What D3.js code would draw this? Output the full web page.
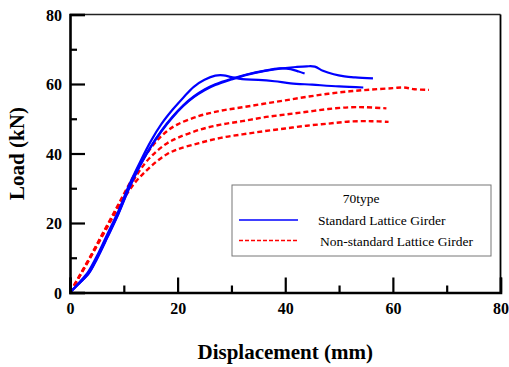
<!DOCTYPE html>
<html><head><meta charset="utf-8">
<script src="https://cdn.jsdelivr.net/npm/d3@7"></script>
<style>body{margin:0;background:#fff}svg{display:block}
svg text{font-family:"Liberation Serif","Times New Roman",Times,serif !important;}</style>
</head><body><svg id="c" width="509" height="367"></svg>
<script>
// ---- data (displacement mm, load kN) ----
const xTicks = [0, 20, 40, 60, 80];
const yTicks = [0, 20, 40, 60, 80];
const xMinorTicks = [10, 30, 50, 70];
const yMinorTicks = [10, 30, 50, 70];
const legendTitle = "70type";
const seriesNames = ["Standard Lattice Girder", "Non-standard Lattice Girder"];

const standardA = [[0,0],[1.5,2.5],[3.4,6],[5,10.5],[7,17],[9,23.5],[11,31],[13,37.5],[15,43.5],[17,48.5],[19,52.5],[21,56],[23,59.2],[25,61.2],[27,62.4],[28.5,62.5],[30,62],[32,61.4],[35,61.2],[38,60.8],[41,60.2],[45,59.8],[50,59.3],[54.5,59]];
const standardB = [[0,0],[1.5,2.3],[3.5,5.6],[5,9.8],[7,16.2],[9,22.8],[11,30.2],[13,36.6],[15,42],[17,46.6],[19,50.5],[21,53.8],[23,56.4],[25,58.4],[27,59.9],[30,61.5],[33,62.8],[36,63.8],[39,64.5],[41,64.3],[42.5,63.6],[43.6,63]];
const standardC = [[0,0],[1.5,2.3],[3.5,5.5],[5,9.6],[7,16],[9,22.6],[11,30],[13,36.4],[15,41.8],[17,46.4],[19,50.3],[21,53.6],[23,56.2],[25,58.2],[27,59.7],[30,61.3],[33,62.7],[36,63.7],[39,64.4],[42,64.9],[44,65.1],[45.5,65],[47,63.8],[49,62.8],[51,62.2],[53,61.9],[56.3,61.6]];
const nonStandardA = [[0,0],[2,5.5],[4,11],[6,16.8],[8,22.5],[10,28.3],[12,34],[14,39.3],[16,43.4],[18,46.4],[20,48.4],[24,50.8],[28,52.3],[32,53.3],[36,54.3],[40,55.3],[44,56.3],[48,57.2],[52,57.9],[56,58.4],[60,58.8],[62,59],[64,58.5],[66.7,58.3]];
const nonStandardB = [[0,0],[2,5.3],[4,10.8],[6,16.5],[8,22.2],[10,27.8],[12,32.8],[14,37.3],[16,40.5],[18,42.9],[20,44.5],[24,46.8],[28,48.3],[32,49.3],[36,50.4],[40,51.2],[44,52],[48,52.8],[52,53.3],[55,53.3],[58.8,53]];
const nonStandardC = [[0,0],[2,5.2],[4,10.6],[6,16.2],[8,21.8],[10,27],[12,31.5],[14,34.8],[16,37.6],[18,39.8],[20,41.2],[24,43],[28,44.5],[32,45.5],[36,46.4],[40,47.2],[44,48],[48,48.6],[52,49.2],[56,49.3],[59.2,49.1]];

const standardSeries = [standardA, standardB, standardC];
const nonStandardSeries = [nonStandardA, nonStandardB, nonStandardC];

// ---- layout ----
const svg = d3.select("#c");
const L = 70, R = 500.5, T = 14.5, B = 292.5;
const x = d3.scaleLinear().domain([0, 80]).range([L, R]);
const y = d3.scaleLinear().domain([0, 80]).range([B, T]);

const line = d3.line().x(d => x(d[0])).y(d => y(d[1])).curve(d3.curveCatmullRom);

// curves
const g = svg.append("g");
g.selectAll(".ns").data(nonStandardSeries).join("path")
  .attr("d", line).attr("fill", "none").attr("stroke", "#ff0000")
  .attr("stroke-width", 2.4).attr("stroke-dasharray", "5,3");
g.selectAll(".st").data(standardSeries).join("path")
  .attr("d", line).attr("fill", "none").attr("stroke", "#0000ff")
  .attr("stroke-width", 2.2);

// frame top/right
svg.append("line").attr("x1", L).attr("x2", R).attr("y1", T).attr("y2", T).attr("stroke", "#222").attr("stroke-width", 1.6);
svg.append("line").attr("x1", R).attr("x2", R).attr("y1", T).attr("y2", B).attr("stroke", "#000").attr("stroke-width", 1.8);

// axes
const xAxis = d3.axisBottom(x).tickValues(xTicks).tickSize(-15).tickFormat(d3.format("d"));
const xMinor = d3.axisBottom(x).tickValues(xMinorTicks).tickSize(-7).tickFormat("");
const yAxis = d3.axisLeft(y).tickValues(yTicks).tickSize(-15).tickFormat(d3.format("d"));
const yMinor = d3.axisLeft(y).tickValues(yMinorTicks).tickSize(-7).tickFormat("");

function styleAxis(sel) {
  sel.attr("font-family", null);
  sel.select(".domain").attr("stroke", "#000").attr("stroke-width", 2.6);
  sel.selectAll(".tick line").attr("stroke", "#000").attr("stroke-width", 2.2);
  sel.selectAll("text").attr("font-weight", "bold").attr("font-size", 16).attr("fill", "#000");
}
const gx = svg.append("g").attr("transform", `translate(0,${B})`).call(xAxis).call(styleAxis);
const gxm = svg.append("g").attr("transform", `translate(0,${B})`).call(xMinor).call(styleAxis);
gxm.select(".domain").remove();
const gy = svg.append("g").attr("transform", `translate(${L},0)`).call(yAxis).call(styleAxis);
const gym = svg.append("g").attr("transform", `translate(${L},0)`).call(yMinor).call(styleAxis);
gym.select(".domain").remove();
gx.selectAll(".tick text").attr("y", 21).attr("dy", "0");
gy.selectAll(".tick text").attr("x", -8).attr("dy", "0.35em");

// axis titles
svg.append("text").attr("x", (L + R) / 2).attr("y", 359).attr("text-anchor", "middle")
  .attr("font-weight", "bold").attr("font-size", 21).text("Displacement (mm)");
svg.append("text").attr("transform", `translate(24,${(T + B) / 2}) rotate(-90)`).attr("text-anchor", "middle")
  .attr("font-weight", "bold").attr("font-size", 21).text("Load (kN)");

// legend
const lg = svg.append("g");
lg.append("rect").attr("x", 232).attr("y", 185).attr("width", 259).attr("height", 71)
  .attr("fill", "#fff").attr("stroke", "#777").attr("stroke-width", 1);
lg.append("text").attr("x", 361).attr("y", 203).attr("text-anchor", "middle")
  .attr("font-size", 13.5).text(legendTitle);
lg.append("line").attr("x1", 239).attr("x2", 298).attr("y1", 220).attr("y2", 220)
  .attr("stroke", "#0000ff").attr("stroke-width", 1.6);
lg.append("line").attr("x1", 239).attr("x2", 298).attr("y1", 240.5).attr("y2", 240.5)
  .attr("stroke", "#ff0000").attr("stroke-width", 1.6).attr("stroke-dasharray", "4,2");
lg.append("text").attr("x", 318).attr("y", 225).attr("font-size", 13.5).text(seriesNames[0]);
lg.append("text").attr("x", 320).attr("y", 245.5).attr("font-size", 13.5).text(seriesNames[1]);
</script>
</body></html>
